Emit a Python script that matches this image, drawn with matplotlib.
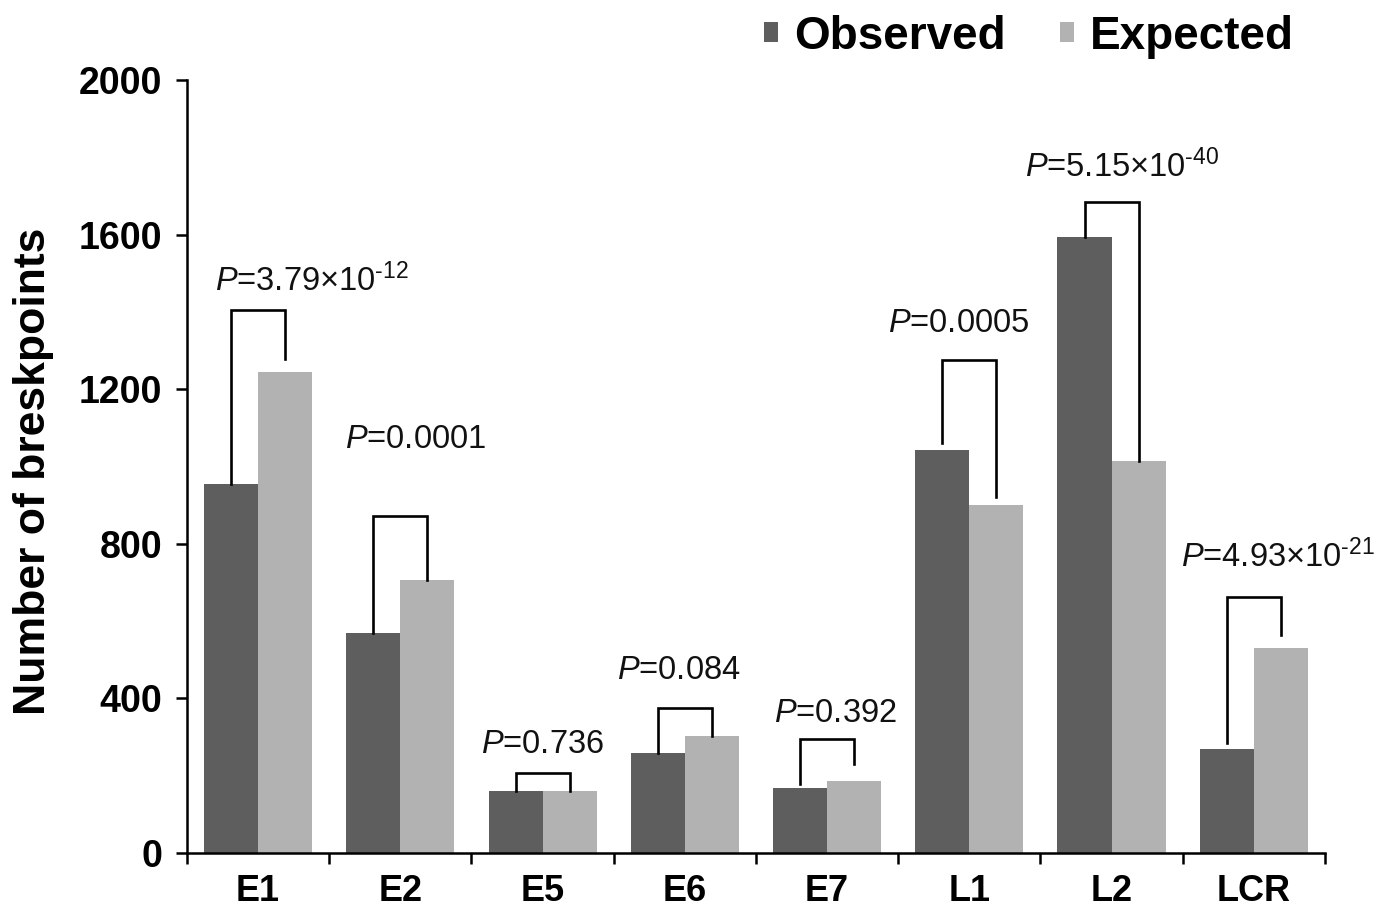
import matplotlib
matplotlib.use("Agg")
from matplotlib import pyplot as plt
import numpy as np

plt.rcParams['font.family'] = ['Liberation Sans', 'DejaVu Sans']
plt.rcParams['mathtext.fontset'] = 'custom'
plt.rcParams['mathtext.rm'] = 'Liberation Sans'
plt.rcParams['mathtext.it'] = 'Liberation Sans:italic'

# data
categories = ['E1', 'E2', 'E5', 'E6', 'E7', 'L1', 'L2', 'LCR']
observed = [955, 570, 160, 259, 169, 1043, 1594, 270]
expected = [1245, 705, 160, 303, 187, 900, 1015, 531]
p_labels = [r'$\mathit{P}$=3.79×10$^{\text{-12}}$', r'$\mathit{P}$=0.0001', r'$\mathit{P}$=0.736',
            r'$\mathit{P}$=0.084', r'$\mathit{P}$=0.392', r'$\mathit{P}$=0.0005',
            r'$\mathit{P}$=5.15×10$^{\text{-40}}$', r'$\mathit{P}$=4.93×10$^{\text{-21}}$']

# bracket annotation layout
bracket_top = [1405, 871, 207, 375, 295, 1275, 1685, 662]
gap_obs = [0, 0, 0, 0, 10, 18, 0, 14]
gap_exp = [33, 0, 0, 0, 43, 21, 0, 32]
text_dx = [-0.30, -0.39, -0.43, -0.48, -0.37, -0.57, -0.61, -0.51]
text_y = [1480, 1069, 281, 473, 362, 1370, 1776, 765]

dark = '#5e5e5e'
light = '#b2b2b2'

fig = plt.figure(figsize=(13.83, 9.15), dpi=100)
ax = fig.add_axes([0.1352, 0.0678, 0.8228, 0.8448])

x = np.arange(len(categories))
w = 0.38
ax.bar(x - w/2, observed, w, color=dark, label='Observed', zorder=2)
ax.bar(x + w/2, expected, w, color=light, label='Expected', zorder=2)

for i in range(len(categories)):
    xo = x[i] - w/2
    xe = x[i] + w/2
    ax.plot([xo, xo, xe, xe],
            [observed[i] + gap_obs[i], bracket_top[i], bracket_top[i], expected[i] + gap_exp[i]],
            color='black', lw=1.9, solid_joinstyle='miter', zorder=3)
    ax.text(x[i] + text_dx[i], text_y[i], p_labels[i], ha='left', va='center',
            fontsize=23.5, color='#111111')

ax.set_xlim(-0.5, len(categories) - 0.5)
ax.set_ylim(0, 2000)
ax.set_yticks(np.arange(0, 2001, 400))
ax.set_xticks(x)
ax.set_xticklabels(categories, fontsize=26, fontweight='bold')
ax.set_xticks(np.arange(-0.5, len(categories), 1), minor=True)
for lab in ax.get_yticklabels():
    lab.set_fontsize(27)
    lab.set_fontweight('bold')

ax.spines['top'].set_visible(False)
ax.spines['right'].set_visible(False)
ax.spines['left'].set_linewidth(1.8)
ax.spines['bottom'].set_linewidth(1.8)
ax.tick_params(axis='y', direction='out', length=8, width=1.8, pad=10)
ax.tick_params(axis='x', which='major', direction='in', length=4, width=1.8, pad=15)
ax.tick_params(axis='x', which='minor', direction='out', length=8, width=1.8)

fig.text(0.024, 0.485, 'Number of breskpoints', rotation=90, ha='center', va='center',
         fontsize=32, fontweight='bold')

fig.legend(loc='center right', bbox_to_anchor=(0.949, 0.96), ncol=2, frameon=False,
           prop={'size': 33, 'weight': 'bold'}, handlelength=0.3, handleheight=0.3,
           handletextpad=0.35, columnspacing=1.2, borderaxespad=0)

fig.savefig('out.png', dpi=100)
